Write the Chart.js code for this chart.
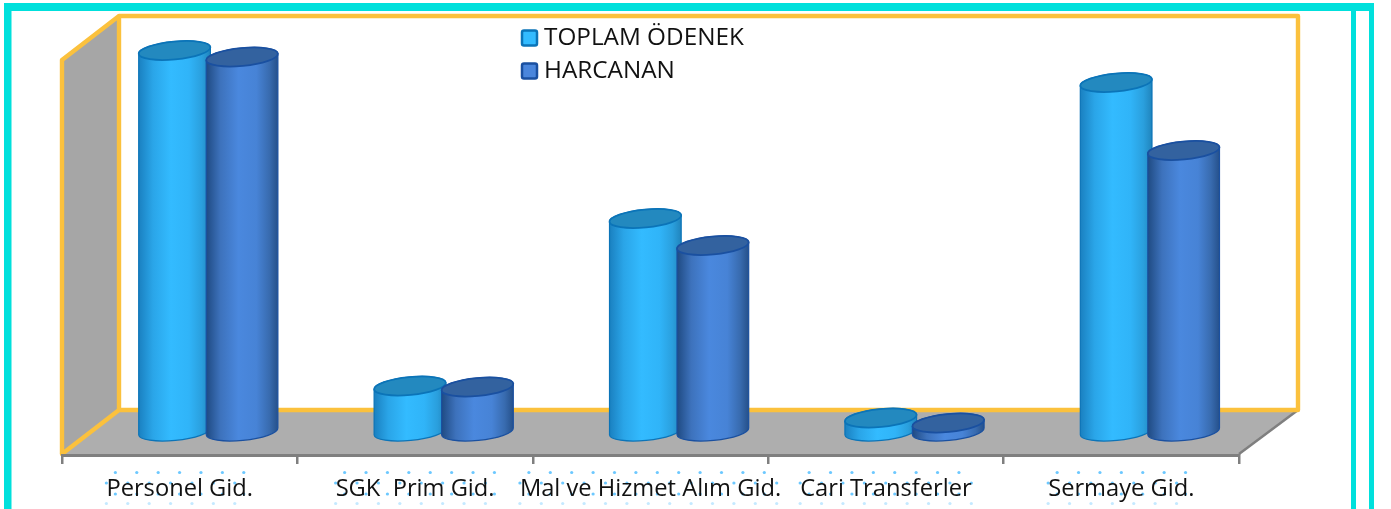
<!DOCTYPE html>
<html><head><meta charset="utf-8">
<style>html,body{margin:0;padding:0;background:#fff;overflow:hidden}canvas{display:block}</style>
<script src="https://cdn.jsdelivr.net/npm/chart.js@4"></script>
</head><body>
<canvas id="c" width="1391" height="509"></canvas>
<script>
const categories = ['Personel Gid.', 'SGK  Prim Gid.', 'Mal ve Hizmet Alım Gid.', 'Cari Transferler', 'Sermaye Gid.'];
const toplamOdenek = [381, 45.5, 213, 13.5, 349];
const harcanan = [374.5, 44.5, 186, 8.5, 281];

const YELLOW = '#FBC13D', TEAL = '#00E0DC', WALL = '#A6A6A6', FLOOR = '#AEAEAE', AXIS = '#7F7F7F';
const looks = [
  {stops:[[0,'#1A80C0'],[.2,'#2AA5E8'],[.45,'#33BBFF'],[.7,'#30B4F8'],[.88,'#2A9FDD'],[1,'#2084BC']], top:'#2389BF', edge:'#0B74B8', fill:'#33BBFF'},
  {stops:[[0,'#1F4A82'],[.2,'#3D72BC'],[.45,'#4A88DE'],[.7,'#4783D6'],[.88,'#386BAF'],[1,'#25508A']], top:'#33629F', edge:'#1A50A0', fill:'#4A86DC'}
];

const scene = {
  id:'scene',
  beforeDraw(chart){
    const ctx = chart.ctx, a = chart.chartArea;
    const L = a.left, R = a.right, B = a.bottom - 1, T = a.top;
    const dx = 57, dy = 44, bx = L + dx, brx = R + 59, by = B - dy;
    ctx.save();
    ctx.fillStyle = TEAL;
    ctx.fillRect(4, 3, 1370, 8);
    ctx.fillRect(4, 3, 7.5, 506);
    ctx.fillRect(1351, 3, 5, 506);
    ctx.fillRect(1369, 3, 5, 506);
    ctx.fillStyle = WALL;
    ctx.beginPath(); ctx.moveTo(L, T+44); ctx.lineTo(bx, T); ctx.lineTo(bx, by); ctx.lineTo(L, B); ctx.closePath(); ctx.fill();
    ctx.fillStyle = FLOOR;
    ctx.beginPath(); ctx.moveTo(bx, by); ctx.lineTo(brx, by); ctx.lineTo(R, B); ctx.lineTo(L, B); ctx.closePath(); ctx.fill();
    ctx.strokeStyle = AXIS; ctx.lineWidth = 2.5;
    ctx.beginPath(); ctx.moveTo(brx, by); ctx.lineTo(R, B); ctx.stroke();
    ctx.strokeStyle = YELLOW; ctx.lineWidth = 4.4; ctx.lineJoin = 'round'; ctx.lineCap = 'round';
    ctx.beginPath();
    ctx.moveTo(L, B); ctx.lineTo(L, T+44); ctx.lineTo(bx, T); ctx.lineTo(brx, T); ctx.lineTo(brx, by); ctx.lineTo(bx, by); ctx.lineTo(L, B);
    ctx.moveTo(bx, T); ctx.lineTo(bx, by);
    ctx.stroke();
    const sx = chart.scales.x;
    ctx.font = sx.options.ticks.font.size + 'px ' + sx.options.ticks.font.family;
    ctx.fillStyle = '#6CC8FF';
    categories.forEach((t, i) => {
      const w = ctx.measureText(t).width, c = sx.getPixelForTick(i), l = c - w/2, r = c + w/2 + 2;
      [[472.5,9,1],[483,0,1],[494,9,1],[503.5,0,.4]].forEach(([y,off,al]) => {
        ctx.globalAlpha = al;
        for (let x = l + off; x <= r; x += 21.4) { ctx.beginPath(); ctx.arc(x, y, 1.6, 0, 7); ctx.fill(); }
      });
    });
    ctx.restore();
  },
  beforeDatasetDraw(){ return false; },
  afterDatasetsDraw(chart){
    const ctx = chart.ctx, rot = -5.5 * Math.PI/180, shift = 28.6, ry = 8.9;
    chart.data.datasets.forEach((d, i) => {
      const look = looks[i];
      chart.getDatasetMeta(i).data.forEach(bar => {
        const cx = bar.x + shift, rx = (bar.width + 4.5) / 2, yt = bar.y, yb = bar.base;
        const ex = rx*Math.cos(rot), ey = rx*Math.sin(rot);
        const g = ctx.createLinearGradient(cx-rx, 0, cx+rx, 0);
        look.stops.forEach(s => g.addColorStop(s[0], s[1]));
        ctx.save();
        ctx.beginPath();
        ctx.ellipse(cx, yb, rx, ry, rot, 0, Math.PI);
        ctx.lineTo(cx-ex, yt-ey);
        ctx.ellipse(cx, yt, rx, ry, rot, Math.PI, 2*Math.PI);
        ctx.closePath();
        ctx.fillStyle = g; ctx.fill();
        ctx.strokeStyle = look.edge; ctx.lineWidth = 1.2; ctx.stroke();
        ctx.beginPath();
        ctx.ellipse(cx, yt, rx, ry, rot, 0, 2*Math.PI);
        ctx.fillStyle = look.top; ctx.fill();
        ctx.lineWidth = 1.8; ctx.stroke();
        ctx.restore();
      });
    });
  },
  afterDraw(chart){
    const ctx = chart.ctx;
    ctx.save();
    ctx.textBaseline = 'middle'; ctx.textAlign = 'left';
    ctx.font = '24.3px "Open Sans"';
    chart.data.datasets.forEach((d, i) => {
      const y = 38 + i*33, look = looks[i];
      ctx.beginPath(); ctx.roundRect(522, y-7.5, 15, 15, 2);
      ctx.fillStyle = look.fill; ctx.fill();
      ctx.strokeStyle = look.edge; ctx.lineWidth = 2.5; ctx.stroke();
      ctx.fillStyle = '#111';
      ctx.fillText(d.label, 544, y);
    });
    ctx.restore();
  }
};

new Chart(document.getElementById('c'), {
  type:'bar',
  data:{ labels:categories, datasets:[
    {label:'TOPLAM ÖDENEK', data:toplamOdenek, backgroundColor:'#33BBFF'},
    {label:'HARCANAN', data:harcanan, backgroundColor:'#4A86DC'}
  ]},
  plugins:[scene],
  options:{
    responsive:false, animation:false, events:[],
    layout:{padding:{left:62, right:152, top:16, bottom:0}},
    categoryPercentage:.5735, barPercentage:1,
    plugins:{legend:{display:false}, tooltip:{enabled:false}},
    scales:{
      x:{
        afterFit(s){ s.height = 54; },
        border:{color:AXIS, width:3},
        grid:{drawOnChartArea:false, drawTicks:true, tickLength:9, color:AXIS, lineWidth:2.5},
        ticks:{font:{family:'"Open Sans"', size:23.7}, color:'#111', padding:11, maxRotation:0, autoSkip:false}
      },
      y:{display:false, min:-23.5, max:415.5}
    }
  }
});
</script>
</body></html>
